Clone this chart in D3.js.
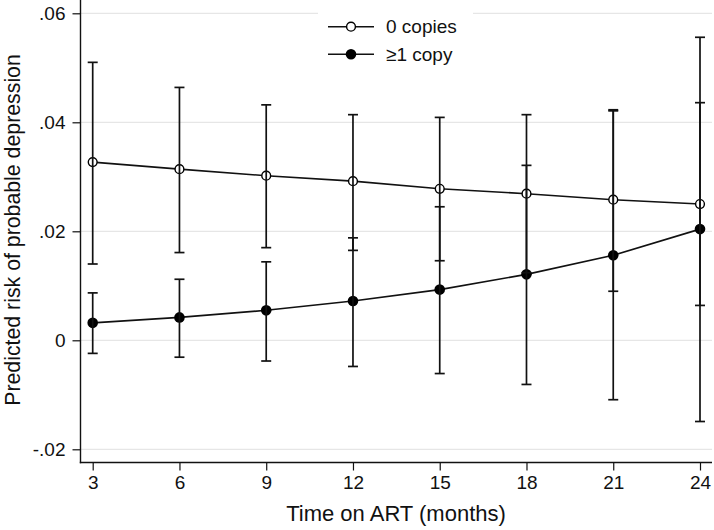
<!DOCTYPE html>
<html><head><meta charset="utf-8">
<script src="https://cdn.jsdelivr.net/npm/d3@7"></script>
<style>html,body{margin:0;padding:0;background:#fff;}svg{display:block;font-family:"Liberation Sans",Arial,Helvetica,sans-serif;}</style>
</head><body>
<svg id="c" width="714" height="530"></svg>
<script>
const months = [3, 6, 9, 12, 15, 18, 21, 24];
const xTickLabels = ["3", "6", "9", "12", "15", "18", "21", "24"];
const yTicks = [-0.02, 0, 0.02, 0.04, 0.06];
const yTickLabels = ["-.02", "0", ".02", ".04", ".06"];
const seriesNames = ["0 copies", "\u22651 copy"];
const zeroEst = [0.0327, 0.0314, 0.0302, 0.0292, 0.0278, 0.0269, 0.0258, 0.0250];
const zeroLo  = [0.0140, 0.0161, 0.0170, 0.0165, 0.0146, 0.0124, 0.0090, 0.0064];
const zeroHi  = [0.0510, 0.0464, 0.0432, 0.0414, 0.0409, 0.0414, 0.0423, 0.0436];
const oneEst  = [0.0032, 0.0042, 0.0055, 0.0072, 0.0093, 0.0121, 0.0156, 0.0204];
const oneLo   = [-0.0024, -0.0031, -0.0038, -0.0048, -0.0061, -0.0081, -0.0109, -0.0149];
const oneHi   = [0.0087, 0.0112, 0.0144, 0.0188, 0.0245, 0.0321, 0.0421, 0.0556];

const svg = d3.select("#c");
const x = d3.scaleLinear().domain([3, 24]).range([92.7, 700]);
const y = d3.scaleLinear().domain([-0.02, 0.06]).range([449.3, 13.3]);
const axisX0 = 80.5, axisY0 = 462.5, plotRight = 712;

// gridlines
svg.append("g").selectAll("line").data(yTicks).join("line")
  .attr("x1", axisX0).attr("x2", plotRight)
  .attr("y1", d => y(d)).attr("y2", d => y(d))
  .attr("stroke", "#e6e6e6").attr("stroke-width", 1.2);

const series = [
  {name: seriesNames[0], est: zeroEst, lo: zeroLo, hi: zeroHi, filled: false},
  {name: seriesNames[1], est: oneEst, lo: oneLo, hi: oneHi, filled: true}
];

// legend background box (covers gridline)
const lg = svg.append("g");
lg.append("rect").attr("x", 318).attr("y", 4).attr("width", 155).attr("height", 66).attr("fill", "#fff");

const line = d3.line().x((d, i) => x(months[i])).y(d => y(d));
series.forEach(s => {
  svg.append("path").attr("d", line(s.est)).attr("fill", "none")
    .attr("stroke", "#111").attr("stroke-width", 1.6);
});
series.forEach(s => {
  const g = svg.append("g");
  g.selectAll("circle").data(s.est).join("circle")
    .attr("cx", (d, i) => x(months[i])).attr("cy", d => y(d))
    .attr("r", s.filled ? 5.3 : 4.4)
    .attr("fill", s.filled ? "#000" : "#fff")
    .attr("stroke", "#000").attr("stroke-width", s.filled ? 0 : 1.4);
});
// error bars
series.forEach(s => {
  const g = svg.append("g").attr("stroke", "#111").attr("stroke-width", 1.7);
  months.forEach((m, i) => {
    const cx = x(m);
    g.append("line").attr("x1", cx).attr("x2", cx).attr("y1", y(s.lo[i])).attr("y2", y(s.hi[i]));
    g.append("line").attr("x1", cx - 5).attr("x2", cx + 5).attr("y1", y(s.lo[i])).attr("y2", y(s.lo[i]));
    g.append("line").attr("x1", cx - 5).attr("x2", cx + 5).attr("y1", y(s.hi[i])).attr("y2", y(s.hi[i]));
  });
});

// axes
const yAxis = d3.axisLeft(y).tickValues(yTicks).tickFormat((d, i) => yTickLabels[i]).tickSize(8).tickPadding(7);
const gy = svg.append("g").attr("transform", `translate(${axisX0},0)`).call(yAxis);
gy.select(".domain").remove();
gy.append("line").attr("x1", 0).attr("x2", 0).attr("y1", 0).attr("y2", axisY0 + 0.7).attr("stroke", "#111").attr("stroke-width", 1.4);
gy.selectAll(".tick line").attr("stroke", "#111").attr("stroke-width", 1.2);
gy.selectAll(".tick text").attr("font-size", 19).attr("fill", "#111").attr("font-family", "Liberation Sans, Arial, sans-serif");

const xAxis = d3.axisBottom(x).tickValues(months).tickFormat((d, i) => xTickLabels[i]).tickSize(8).tickPadding(5);
const gx = svg.append("g").attr("transform", `translate(0,${axisY0})`).call(xAxis);
gx.select(".domain").remove();
gx.append("line").attr("x1", axisX0 - 0.7).attr("x2", plotRight).attr("y1", 0).attr("y2", 0).attr("stroke", "#111").attr("stroke-width", 1.4);
gx.selectAll(".tick line").attr("stroke", "#111").attr("stroke-width", 1.2);
gx.selectAll(".tick text").attr("font-size", 19).attr("fill", "#111").attr("font-family", "Liberation Sans, Arial, sans-serif");

// axis titles
svg.append("text").attr("x", 396).attr("y", 521).attr("text-anchor", "middle")
  .attr("font-size", 22).attr("fill", "#111").text("Time on ART (months)");
svg.append("text").attr("transform", "translate(20,230) rotate(-90)").attr("text-anchor", "middle")
  .attr("font-size", 21.3).attr("fill", "#111").text("Predicted risk of probable depression");

// legend items
series.forEach((s, i) => {
  const ly = 26.7 + i * 27.6;
  lg.append("line").attr("x1", 328).attr("x2", 374).attr("y1", ly).attr("y2", ly).attr("stroke", "#111").attr("stroke-width", 1.5);
  lg.append("circle").attr("cx", 351).attr("cy", ly).attr("r", s.filled ? 5.3 : 4.4)
    .attr("fill", s.filled ? "#000" : "#fff").attr("stroke", "#000").attr("stroke-width", s.filled ? 0 : 1.4);
  lg.append("text").attr("x", 386).attr("y", ly).attr("dy", "0.35em").attr("font-size", 19).attr("fill", "#111").text(s.name);
});
</script>
</body></html>
